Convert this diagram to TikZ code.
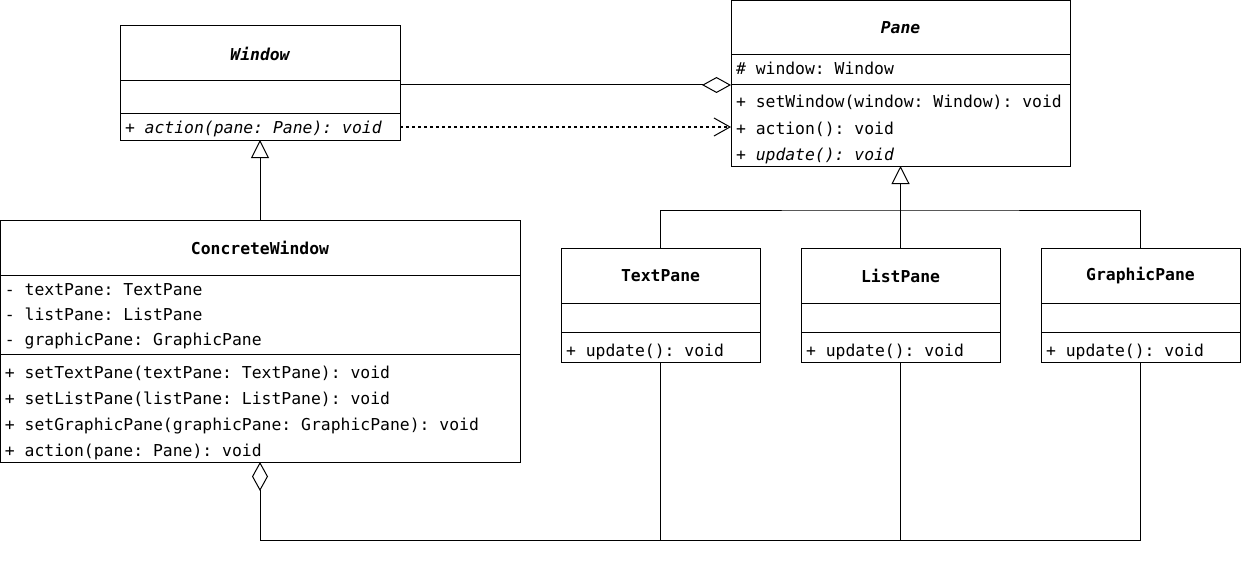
\documentclass[tikz,border=0pt]{standalone}
\usepackage{fontspec}
\setmonofont{DejaVu Sans Mono}
\usetikzlibrary{positioning,arrows.meta}

\begin{document}
\begin{tikzpicture}[%
    x=1pt, y=-1pt,
    line width=1pt,
    every node/.style={
        font=\ttfamily\fontsize{16.4}{26}\selectfont,
        outer sep=0pt,
    },
    classhead/.style={draw, minimum height=55pt,
        font=\ttfamily\fontsize{16.4}{26}\selectfont\bfseries},
    % text height = top to first baseline, text depth = the rest of the compartment
    classpart/.style 2 args={draw, align=flush left, inner xsep=5pt, inner ysep=0pt,
        text height=#1, text depth=#2,
        execute at begin node={\spaceskip=0pt\relax}},
    inherit/.style={-{Triangle[open,length=18pt,width=18pt]}},
    aggregate/.style={{Diamond[open,length=29pt,width=16pt]}-},
    depend/.style={dashed, -{Straight Barb[length=16pt,width=18pt]}},
]
\useasboundingbox (0,0) rectangle (1241,567);

% abstract classes
\node[classhead, minimum width=280pt] (winhead) at (260,53.5) {\itshape Window};
\node[classpart={33pt}{0pt}, text width=270pt, below=0pt of winhead] (winattr) {};
\node[classpart={19pt}{7pt}, text width=270pt, below=0pt of winattr] (winmeth)
    {\itshape + action(pane: Pane): void};

\node[classhead, minimum width=339pt, minimum height=54pt] (panehead) at (900.5,28) {\itshape Pane};
\node[classpart={20pt}{10pt}, text width=329pt, below=0pt of panehead] (paneattr)
    {\# window: Window};
\node[classpart={23pt}{58pt}, text width=329pt, below=0pt of paneattr] (panemeth)
    {+ setWindow(window: Window): void\\+ action(): void\\{\itshape + update(): void}};

% concrete window
\node[classhead, minimum width=520pt] (cwhead) at (260,247.5) {ConcreteWindow};
\node[classpart={20pt}{59pt}, text width=510pt, below=0pt of cwhead,
    font=\ttfamily\fontsize{16.4}{25}\selectfont] (cwattr)
    {- textPane: TextPane\\- listPane: ListPane\\- graphicPane: GraphicPane};
\node[classpart={24pt}{84pt}, text width=510pt, below=0pt of cwattr] (cwmeth)
    {+ setTextPane(textPane: TextPane): void\\+ setListPane(listPane: ListPane): void\\
     + setGraphicPane(graphicPane: GraphicPane): void\\+ action(pane: Pane): void};

% concrete panes
\foreach \name/\x/\title in {text/660.5/TextPane, list/900.5/ListPane, graphic/1140.5/GraphicPane}{
    \node[classhead, minimum width=199pt] (\name-head) at (\x,275.5) {\title};
    \node[classpart={29pt}{0pt}, text width=189pt, below=0pt of \name-head] (\name-attr) {};
    \node[classpart={24pt}{6pt}, text width=189pt, below=0pt of \name-attr] (\name-meth)
        {+ update(): void};
}

% window and pane
\draw[aggregate] (paneattr.south west) -- (winattr.east |- paneattr.south west);
\draw[depend] (winmeth.east) -- (panemeth.west |- winmeth.east);

% generalisations
\draw[inherit] (cwhead.north) -- (winmeth.south);
\coordinate (panejoin) at (900.5,210);
\draw[inherit] (list-head.north) -- (panemeth.south);
\draw (text-head.north) |- (panejoin) -| (graphic-head.north);

% concrete window holds the panes
\coordinate (panebase) at (0,540);
\draw[aggregate] (cwmeth.south) |- (graphic-meth.south |- panebase) -- (graphic-meth.south);
\foreach \name in {text,list}{
    \draw (\name-meth.south) -- (\name-meth.south |- panebase);
}
\end{tikzpicture}
\end{document}
